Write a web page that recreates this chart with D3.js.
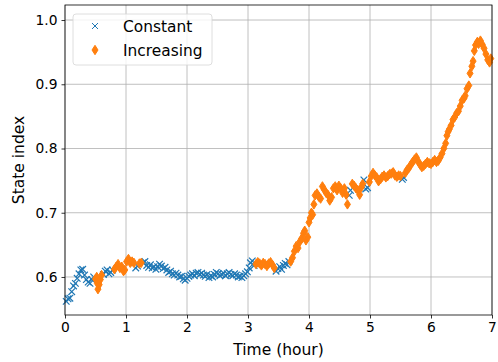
<!DOCTYPE html>
<html>
<head>
<meta charset="utf-8">
<script src="https://cdn.jsdelivr.net/npm/d3@7"></script>
<style>
  body { margin: 0; background: #fff; }
  text { font-family: "DejaVu Sans", sans-serif; fill: #000; }
</style>
</head>
<body>
<div id="graf"></div>
<script>
// Data
const constTime = [0.02,0.05,0.08,0.11,0.14,0.17,0.20,0.23,0.26,0.29,0.32,0.35,0.38,0.41,0.44,0.47,
  0.63,0.66,0.69,0.72,0.75,0.78,
  1.16,1.19,
  1.28,1.31,1.34,1.37,1.40,1.43,1.46,1.49,1.52,1.55,1.58,1.61,1.64,1.67,1.70,1.73,1.76,1.79,1.82,1.85,1.88,1.91,1.94,1.97,
  2.00,2.03,2.06,2.09,2.12,2.15,2.18,2.21,2.24,2.27,2.30,2.33,2.36,2.39,2.42,2.45,2.48,2.51,2.54,2.57,2.60,2.63,2.66,2.69,
  2.72,2.75,2.78,2.81,2.84,2.87,2.90,2.93,2.96,2.99,3.02,3.04,3.07,3.10,
  3.46,3.49,3.52,3.55,3.58,3.61,3.64,3.67,
  4.66,4.68,
  4.90,4.93,4.96,
  5.53,5.55]
const constValue = [0.562,0.566,0.567,0.577,0.586,0.590,0.598,0.605,0.611,0.612,0.603,0.596,0.592,0.590,0.596,0.600,
  0.604,0.609,0.611,0.605,0.607,0.611,
  0.614,0.617,
  0.622,0.624,0.618,0.615,0.619,0.614,0.616,0.612,0.616,0.620,0.617,0.613,0.615,0.611,0.607,0.609,0.605,0.603,0.606,0.603,0.600,0.601,0.597,0.595,
  0.598,0.601,0.603,0.605,0.602,0.606,0.607,0.604,0.606,0.603,0.601,0.604,0.599,0.602,0.600,0.604,0.607,0.605,0.602,0.604,0.606,0.602,0.605,0.607,
  0.604,0.602,0.605,0.603,0.600,0.601,0.599,0.602,0.605,0.608,0.614,0.622,0.625,0.618,
  0.609,0.613,0.616,0.612,0.618,0.621,0.619,0.624,
  0.727,0.735,
  0.751,0.737,0.739,
  0.752,0.755]

const incTime = [0.50,0.52,0.53,0.54,0.56,0.58,0.60,
  0.81,0.84,0.87,0.90,0.93,0.96,0.98,1.01,1.04,1.07,1.10,1.13,
  1.22,1.25,
  3.13,3.16,3.19,3.22,3.25,3.28,3.31,3.34,3.37,3.40,3.43,
  3.70,3.73,3.76,3.79,3.82,3.85,3.88,3.91,3.93,3.95,3.98,4.00,4.02,4.04,4.06,4.08,4.10,4.13,4.16,4.19,4.22,4.25,4.28,
  4.31,4.34,4.37,4.40,4.43,4.46,4.49,4.52,4.55,4.58,4.61,4.63,
  4.71,4.74,4.77,4.80,4.83,4.86,4.88,
  4.99,5.02,5.05,5.08,5.11,5.14,5.17,5.20,5.23,5.26,5.29,5.32,5.35,5.38,5.41,5.44,5.47,5.50,
  5.58,5.61,5.64,5.67,5.70,5.73,5.76,5.79,5.82,5.85,5.88,5.91,5.94,5.97,6.00,6.03,6.06,6.09,6.12,6.15,6.18,6.21,6.24,
  6.26,6.28,6.30,6.33,6.36,6.39,6.42,6.45,6.48,6.51,6.54,6.56,6.59,6.62,6.64,6.67,6.69,6.71,6.73,6.76,6.78,6.81,6.84,
  6.87,6.90,6.93,6.96,6.98]
const incValue = [0.597,0.600,0.590,0.581,0.588,0.596,0.603,
  0.612,0.616,0.620,0.614,0.616,0.609,0.611,0.624,0.628,0.622,0.624,0.622,
  0.621,0.622,
  0.620,0.623,0.621,0.618,0.622,0.620,0.617,0.621,0.623,0.619,0.614,
  0.624,0.630,0.640,0.648,0.645,0.655,0.660,0.668,0.672,0.657,0.662,0.685,0.692,0.700,0.697,0.713,0.727,0.730,0.725,0.722,0.741,0.736,0.731,
  0.728,0.719,0.724,0.738,0.741,0.735,0.742,0.738,0.731,0.738,0.728,0.713,
  0.745,0.742,0.738,0.735,0.728,0.740,0.745,
  0.748,0.757,0.762,0.758,0.755,0.749,0.752,0.756,0.758,0.755,0.757,0.760,0.761,0.763,0.758,0.756,0.758,0.757,
  0.762,0.767,0.770,0.775,0.779,0.783,0.786,0.780,0.775,0.771,0.773,0.776,0.779,0.777,0.776,0.779,0.782,0.779,0.781,0.786,0.792,0.800,0.808,
  0.820,0.826,0.830,0.836,0.845,0.849,0.855,0.858,0.866,0.875,0.878,0.882,0.893,0.898,0.917,0.928,0.936,0.952,0.961,0.966,0.963,0.968,0.962,
  0.956,0.947,0.938,0.934,0.940]

const xTicks = [0, 1, 2, 3, 4, 5, 6, 7]
const yTicks = [0.6, 0.7, 0.8, 0.9, 1.0]
const seriesNames = ["Constant", "Increasing"]

const constData = constTime.map((t, i) => ({ t: t, v: constValue[i] }))
const incData = incTime.map((t, i) => ({ t: t, v: incValue[i] }))

const anchoTotal = 498
const altoTotal = 362
const margins = { left: 65, top: 5, right: 6, bottom: 47 }
const ancho = anchoTotal - margins.left - margins.right
const alto = altoTotal - margins.top - margins.bottom

const svg = d3.select("#graf")
  .append("svg")
  .attr("width", anchoTotal)
  .attr("height", altoTotal)

const g = svg.append("g")
  .attr("transform", `translate(${margins.left}, ${margins.top})`)

// Escaladores
const x = d3.scaleLinear().domain([0, 7]).range([0, ancho])
const y = d3.scaleLinear().domain([0.5408, 1.0234]).range([alto, 0])

// Grid
g.append("g").selectAll("line").data(xTicks).join("line")
  .attr("x1", d => x(d)).attr("x2", d => x(d))
  .attr("y1", 0).attr("y2", alto)
  .attr("stroke", "#b0b0b0").attr("stroke-width", 0.8)
g.append("g").selectAll("line").data(yTicks).join("line")
  .attr("x1", 0).attr("x2", ancho)
  .attr("y1", d => y(d)).attr("y2", d => y(d))
  .attr("stroke", "#b0b0b0").attr("stroke-width", 0.8)

// Ejes
const xAxis = g.append("g")
  .attr("transform", `translate(0, ${alto})`)
  .call(d3.axisBottom(x).tickValues(xTicks).tickFormat(d3.format("d")).tickSize(3.5).tickPadding(4))
const yAxis = g.append("g")
  .call(d3.axisLeft(y).tickValues(yTicks).tickFormat(d3.format(".1f")).tickSize(3.5).tickPadding(4))

svg.selectAll(".domain").remove()
svg.selectAll(".tick line").attr("stroke", "#000").attr("stroke-width", 0.8)
svg.selectAll(".tick text").style("font-size", "13.8px").style("font-family", "DejaVu Sans")

// marks
const xMark = (s) => `M${-s},${-s}L${s},${s}M${-s},${s}L${s},${-s}`
const diamond = (w, h) => `M0,${-h}L${w},0L0,${h}L${-w},0Z`

g.append("g").selectAll("path").data(constData).join("path")
  .attr("transform", d => `translate(${x(d.t)}, ${y(d.v)})`)
  .attr("d", xMark(3.3))
  .attr("fill", "none")
  .attr("stroke", "#1f77b4")
  .attr("stroke-width", 1.2)

g.append("g").selectAll("path").data(incData).join("path")
  .attr("transform", d => `translate(${x(d.t)}, ${y(d.v)})`)
  .attr("d", diamond(3, 4.7))
  .attr("fill", "#ff7f0e")
  .attr("stroke", "#ff7f0e")
  .attr("stroke-width", 1)

// frame
g.append("rect")
  .attr("x", 0).attr("y", 0)
  .attr("width", ancho).attr("height", alto)
  .attr("fill", "none")
  .attr("stroke", "#000")
  .attr("stroke-width", 0.8)

// Etiquetas
svg.append("text")
  .attr("x", margins.left + ancho / 2)
  .attr("y", 355)
  .attr("text-anchor", "middle")
  .style("font-size", "15.5px")
  .text("Time (hour)")

svg.append("text")
  .attr("transform", `translate(24, ${margins.top + alto / 2}) rotate(-90)`)
  .attr("text-anchor", "middle")
  .style("font-size", "15.5px")
  .text("State index")

// Leyenda
const leg = svg.append("g").attr("transform", "translate(73, 14)")
leg.append("rect")
  .attr("width", 139).attr("height", 51)
  .attr("rx", 3)
  .attr("fill", "#fff").attr("fill-opacity", 0.8)
  .attr("stroke", "#d6d6d6").attr("stroke-width", 0.8)

const items = leg.selectAll("g.item").data(seriesNames).join("g")
  .attr("transform", (d, i) => `translate(22, ${12 + i * 24})`)
items.append("path")
  .attr("d", (d, i) => i === 0 ? xMark(3) : diamond(3, 4.7))
  .attr("fill", (d, i) => i === 0 ? "none" : "#ff7f0e")
  .attr("stroke", (d, i) => i === 0 ? "#1f77b4" : "#ff7f0e")
  .attr("stroke-width", (d, i) => i === 0 ? 1 : 1)
items.append("text")
  .attr("x", 28)
  .attr("y", 5.5)
  .style("font-size", "15.4px")
  .text(d => d)
</script>
</body>
</html>
